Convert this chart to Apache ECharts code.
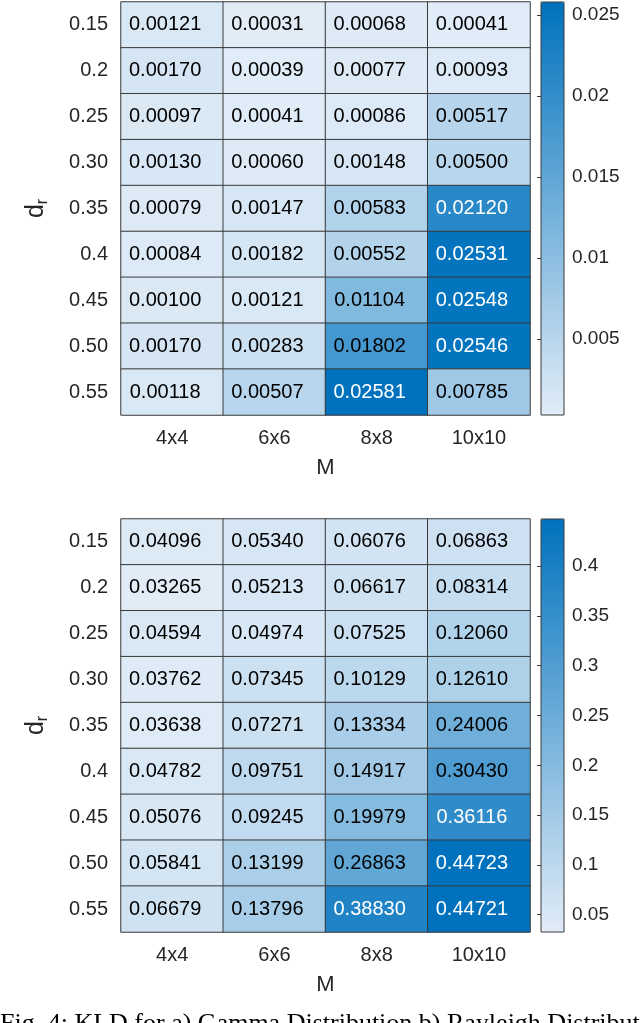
<!DOCTYPE html>
<html lang="en">
<head>
    <meta charset="UTF-8">
    <script src="https://cdn.jsdelivr.net/npm/echarts@6/dist/echarts.min.js"></script>
    <title>KLD heatmaps</title>
    <style>
        html, body { margin: 0; padding: 0; background: #fff; }
    </style>
</head>
<body>
    <div id="main" style="width:640px;height:1023px"></div>
    <script>
        // grid sizes (M) and d_r values
        var sizes = ['4x4', '6x6', '8x8', '10x10'];
        var drLabels = ['0.15', '0.2', '0.25', '0.30', '0.35', '0.4', '0.45', '0.50', '0.55'];

        // a) Gamma distribution, one row per d_r
        var gammaKld = [
            [0.00121, 0.00031, 0.00068, 0.00041],
            [0.00170, 0.00039, 0.00077, 0.00093],
            [0.00097, 0.00041, 0.00086, 0.00517],
            [0.00130, 0.00060, 0.00148, 0.00500],
            [0.00079, 0.00147, 0.00583, 0.02120],
            [0.00084, 0.00182, 0.00552, 0.02531],
            [0.00100, 0.00121, 0.01104, 0.02548],
            [0.00170, 0.00283, 0.01802, 0.02546],
            [0.00118, 0.00507, 0.02581, 0.00785]
        ];

        // b) Rayleigh distribution
        var rayleighKld = [
            [0.04096, 0.05340, 0.06076, 0.06863],
            [0.03265, 0.05213, 0.06617, 0.08314],
            [0.04594, 0.04974, 0.07525, 0.12060],
            [0.03762, 0.07345, 0.10129, 0.12610],
            [0.03638, 0.07271, 0.13334, 0.24006],
            [0.04782, 0.09751, 0.14917, 0.30430],
            [0.05076, 0.09245, 0.19979, 0.36116],
            [0.05841, 0.13199, 0.26863, 0.44723],
            [0.06679, 0.13796, 0.38830, 0.44721]
        ];

        var gammaTicks = [0.005, 0.01, 0.015, 0.02, 0.025];
        var rayleighTicks = [0.05, 0.1, 0.15, 0.2, 0.25, 0.3, 0.35, 0.4];

        var caption = 'Fig. 4: KLD for a) Gamma Distribution b) Rayleigh Distribution';

        var colors = ['#e1ecf7', '#0072bd'];
        var font = 'Liberation Sans, Arial, sans-serif';
        var axisColor = '#262626';

        function range(rows) {
            var all = [].concat.apply([], rows);
            return [Math.min.apply(null, all), Math.max.apply(null, all)];
        }

        function cells(rows) {
            var r = range(rows);
            var out = [];
            rows.forEach(function (row, j) {
                row.forEach(function (v, i) {
                    var f = (v - r[0]) / (r[1] - r[0]);
                    out.push({
                        value: [i, j, v],
                        label: { color: f > 0.75 ? '#ffffff' : '#000000' }
                    });
                });
            });
            return out;
        }

        var gRange = range(gammaKld);
        var rRange = range(rayleighKld);

        var tops = [2, 519];
        var gridH = 413;

        var grids = [], xAxes = [], yAxes = [], series = [], visualMaps = [];
        [[gammaKld, gRange, gammaTicks], [rayleighKld, rRange, rayleighTicks]].forEach(function (set, k) {
            // heatmap grid
            grids.push({ left: 121, top: tops[k], width: 409, height: gridH });
            // colorbar grid (border drawn on top of the visualMap bar)
            grids.push({
                left: 541, top: tops[k], width: 23, height: gridH,
                show: true, backgroundColor: 'transparent',
                borderColor: '#3a3a3a', borderWidth: 1, z: 5
            });
            xAxes.push({
                gridIndex: k * 2, type: 'category', data: sizes,
                name: 'M', nameLocation: 'middle', nameGap: 42,
                nameTextStyle: { fontSize: 22, color: axisColor, fontFamily: font },
                axisLine: { show: false }, axisTick: { show: false }, splitLine: { show: false },
                axisLabel: { fontSize: 20, color: axisColor, fontFamily: font, margin: 13 }
            });
            xAxes.push({
                gridIndex: k * 2 + 1, type: 'value', show: false
            });
            yAxes.push({
                gridIndex: k * 2, type: 'category', data: drLabels, inverse: true,
                name: '{d|d}{r|r}', nameLocation: 'middle', nameGap: 70, nameRotate: 90,
                nameTextStyle: {
                    color: axisColor, fontFamily: font,
                    rich: {
                        d: { fontSize: 25, color: axisColor, fontFamily: font },
                        r: { fontSize: 16, color: axisColor, fontFamily: font, verticalAlign: 'bottom', padding: [14, 0, 0, 0] }
                    }
                },
                axisLine: { show: false }, axisTick: { show: false }, splitLine: { show: false },
                axisLabel: { fontSize: 20, color: axisColor, fontFamily: font, margin: 13 }
            });
            yAxes.push({
                gridIndex: k * 2 + 1, type: 'value', position: 'right',
                min: set[1][0], max: set[1][1], z: 6,
                axisLine: { show: false }, splitLine: { show: false },
                axisTick: { inside: true, length: 4, customValues: set[2], lineStyle: { color: '#3a3a3a' } },
                axisLabel: {
                    customValues: set[2], fontSize: 19, color: axisColor, fontFamily: font, margin: 8,
                    formatter: function (v) { return String(+v.toFixed(3)); }
                }
            });
            series.push({
                type: 'heatmap',
                xAxisIndex: k * 2, yAxisIndex: k * 2,
                data: cells(set[0]),
                itemStyle: { borderColor: '#3a3a3a', borderWidth: 1 },
                label: {
                    show: true, fontSize: 20, fontFamily: font, offset: [-7, 0],
                    formatter: function (p) { return p.value[2].toFixed(5); }
                },
                emphasis: { disabled: true }
            });
            visualMaps.push({
                type: 'continuous', seriesIndex: k,
                min: set[1][0], max: set[1][1],
                left: 541, top: tops[k], itemWidth: 23, itemHeight: gridH,
                padding: 0, calculable: false, hoverLink: false, text: null,
                inRange: { color: colors }
            });
        });

        var chart = echarts.init(document.getElementById('main'));
        chart.setOption({
            animation: false,
            grid: grids,
            xAxis: xAxes,
            yAxis: yAxes,
            visualMap: visualMaps,
            series: series,
            graphic: [{
                type: 'text', left: 0, top: 1011,
                style: { text: caption, fontSize: 26, fontFamily: 'Liberation Serif, Times New Roman, serif', fill: '#000' }
            }]
        });
    </script>
</body>
</html>
